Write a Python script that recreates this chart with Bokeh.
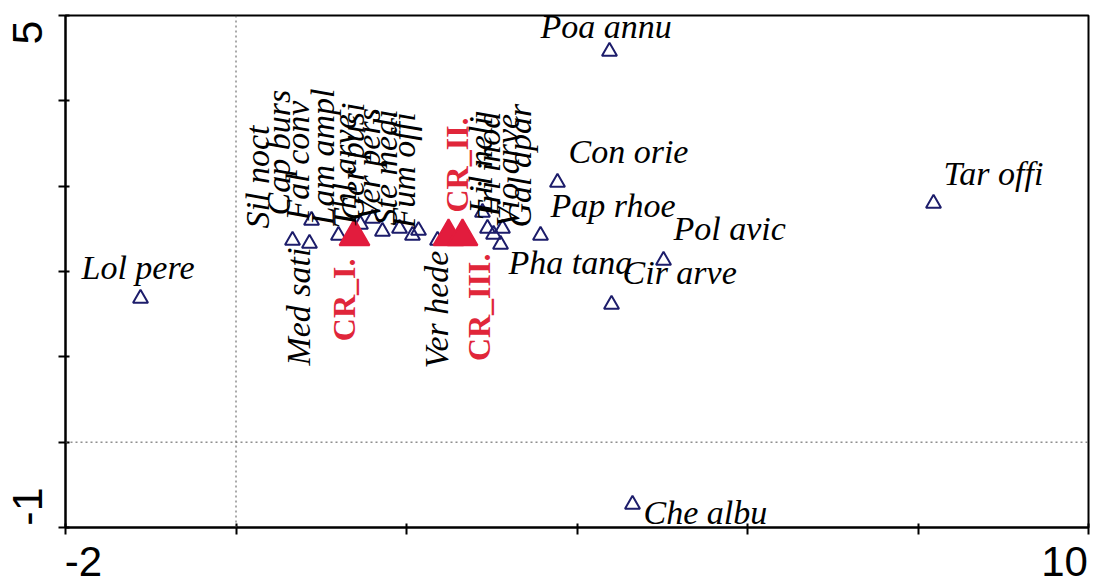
import math
from bokeh.plotting import figure
from bokeh.models import (ColumnDataSource, LabelSet, Span, Range1d, FixedTicker,
                          LinearAxis)
from bokeh.embed import file_html
from bokeh.resources import INLINE

# ---- species scores (axis 1, axis 2) ----
species = ["Lol pere", "Poa annu", "Con orie", "Tar offi", "Pap rhoe", "Pol avic",
           "Cir arve", "Pha tana", "Che albu",
           "Cap burs", "Fal conv", "Lam ampl", "Thl arve", "Ger pusi", "Ver pers",
           "Ste medi", "Fum offi", "Sil noct",
           "Lil neli", "Tri inod", "Vio arve", "Gal apar",
           "Med sati", "Ver hede"]
sp_x = [-1.120, 4.381, 3.771, 8.182, 3.572, 5.015,
        4.405, 3.103, 4.651,
        0.663, 0.886, 1.202, 1.460, 1.601, 1.718,
        1.918, 2.141, 2.070,
        2.891, 2.950, 3.126, 3.021,
        0.862, 2.364]
sp_y = [1.684, 4.578, 3.043, 2.797, 2.422, 2.129,
        1.613, 2.316, -0.730,
        2.363, 2.598, 2.422, 2.551, 2.621, 2.469,
        2.504, 2.480, 2.422,
        2.691, 2.504, 2.504, 2.434,
        2.328, 2.363]

# ---- sample (treatment) centroids ----
samples = ["CR_I.", "CR_II.", "CR_III."]
sm_x = [1.390, 2.493, 2.657]
sm_y = [2.410, 2.410, 2.410]

# ---- axes ----
x_ticks = [-2, 0, 2, 4, 6, 8, 10]
y_ticks = [-1, 0, 1, 2, 3, 4, 5]
x_lo, x_hi = -2, 10
y_lo, y_hi = -1, 5

# ---- label layout: pixel offsets from each point (right, up), rotation, alignment ----
sp_dx = [-59, -69, 11, 10, 10, 10,
         11, 8, 11,
         -3, -3, -4, -4, -8, -2,
         -3, -4, -143,
         10, 13, 17, 37,
         1, 10]
sp_dy = [19, 14, 19, 18, 18, 20,
         21, -29, -20,
         25, 0, 10, -4, -2, 11,
         3, 2, 7,
         -1, 8, 1, 7,
         -4, -10]
sp_rot = [0] * 9 + [90] * 15
sp_align = ["left"] * 22 + ["right"] * 2

sm_dx = [1, 19, 28]
sm_dy = [-22, 24, -17]
sm_align = ["right", "left", "right"]

BLUE = "#1d1d6b"
RED = "#e21c3d"
SERIF = "Liberation Serif"
SANS = "Liberation Sans"

FRAME_W, FRAME_H = 1023, 512

p = figure(width=1096, height=585, output_backend="svg", toolbar_location=None,
           x_range=Range1d(x_lo, x_hi), y_range=Range1d(y_lo, y_hi),
           min_border_left=65, min_border_right=8, min_border_top=15, min_border_bottom=58)
p.xgrid.visible = False
p.ygrid.visible = False
p.outline_line_color = "black"
p.outline_line_width = 2
p.background_fill_color = "white"
p.border_fill_color = "white"

# tick-mark axes (labels are carried by the end-label axes below)
for ax, ticks in ((p.xaxis[0], x_ticks), (p.yaxis[0], y_ticks)):
    ax.ticker = FixedTicker(ticks=ticks)
    ax.major_label_overrides = {t: "" for t in ticks}
    ax.major_label_text_font_size = "0px"
    ax.major_label_standoff = 0
    ax.minor_tick_line_color = None
    ax.major_tick_in = 4
    ax.major_tick_out = 7
    ax.major_tick_line_width = 2
    ax.axis_line_width = 2
    ax.axis_line_color = "black"
    ax.major_tick_line_color = "black"

# end labels only, pulled inside the span of each axis
x_in_lo, x_in_hi = 18, 24      # px inset of the label centres
y_in_lo, y_in_hi = 21, 17
ux = (FRAME_W - x_in_lo - x_in_hi) / (x_hi - x_lo)
uy = (FRAME_H - y_in_lo - y_in_hi) / (y_hi - y_lo)
p.extra_x_ranges = {"ends": Range1d(x_lo - x_in_lo / ux, x_hi + x_in_hi / ux)}
p.extra_y_ranges = {"ends": Range1d(y_lo - y_in_lo / uy, y_hi + y_in_hi / uy)}

end_kw = dict(axis_line_color=None, major_tick_line_color=None, minor_tick_line_color=None,
              major_tick_in=0, major_tick_out=0,
              major_label_text_font=SANS, major_label_text_color="black")
xa = LinearAxis(x_range_name="ends", ticker=FixedTicker(ticks=[x_lo, x_hi]),
                major_label_overrides={x_lo: str(x_lo), x_hi: str(x_hi)},
                major_label_standoff=12, major_label_text_font_size="42px", **end_kw)
ya = LinearAxis(y_range_name="ends", ticker=FixedTicker(ticks=[y_lo, y_hi]),
                major_label_overrides={y_lo: str(y_lo), y_hi: str(y_hi)},
                major_label_standoff=17, major_label_text_font_size="43px",
                major_label_orientation="vertical", **end_kw)
p.add_layout(xa, "below")
p.add_layout(ya, "left")

# dotted origin lines
p.add_layout(Span(location=0, dimension="height", line_color="#555555",
                  line_dash="2 3", line_width=1))
p.add_layout(Span(location=0, dimension="width", line_color="#555555",
                  line_dash="2 3", line_width=1))

sp_src = ColumnDataSource(dict(x=sp_x, y=sp_y, name=species, dx=sp_dx, dy=sp_dy,
                               ang=[math.radians(a) for a in sp_rot], align=sp_align))
sm_src = ColumnDataSource(dict(x=sm_x, y=sm_y, name=samples, dx=sm_dx, dy=sm_dy,
                               ang=[math.pi / 2] * 3, align=sm_align))

p.scatter("x", "y", source=sp_src, marker="triangle", size=15,
          fill_color=None, line_color=BLUE, line_width=2)
p.scatter("x", "y", source=sm_src, marker="triangle", size=30,
          fill_color=RED, line_color=RED, line_width=2)

p.add_layout(LabelSet(x="x", y="y", text="name", source=sp_src,
                      x_offset="dx", y_offset="dy", angle="ang", text_align="align",
                      text_baseline="alphabetic", text_font=SERIF, text_font_style="italic",
                      text_font_size="34px", text_color="black"))
p.add_layout(LabelSet(x="x", y="y", text="name", source=sm_src,
                      x_offset="dx", y_offset="dy", angle="ang", text_align="align",
                      text_baseline="alphabetic", text_font=SANS, text_font_style="bold",
                      text_font_size="32px", text_color="#e0263a"))

open("out.html", "w").write(file_html(p, INLINE))
